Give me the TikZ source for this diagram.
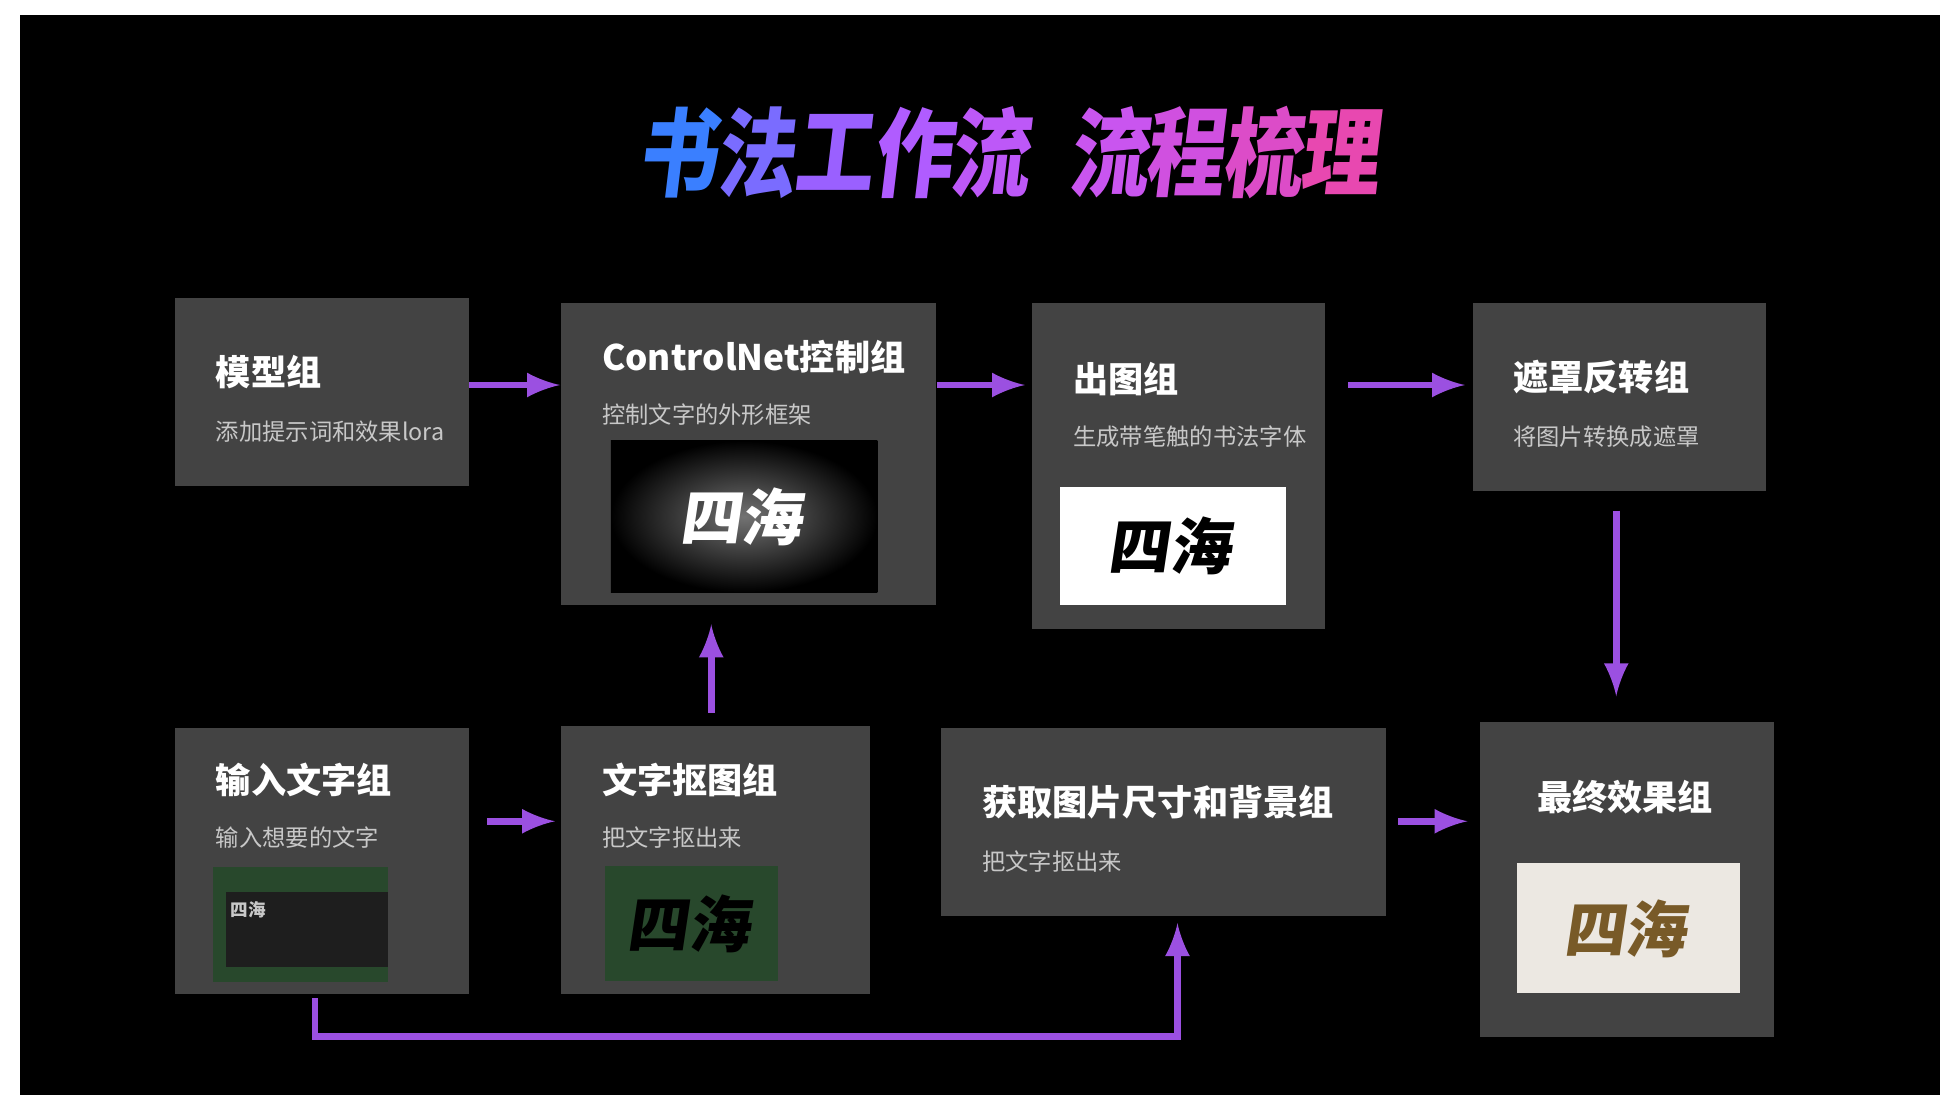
\documentclass[tikz,border=0pt]{standalone}
\usepackage{fontspec}
\setmainfont{Noto Sans CJK SC}
\usetikzlibrary{positioning}
\definecolor{boxgray}{RGB}{67,67,67}
\definecolor{subgray}{RGB}{200,200,200}
\definecolor{flowpurple}{RGB}{155,80,225}
\definecolor{maskgreen}{RGB}{40,72,44}
\definecolor{inkdark}{RGB}{30,30,30}
\definecolor{beige}{RGB}{236,232,226}
\definecolor{gold}{RGB}{120,90,40}
\tikzset{
  stepbox/.style={shape=rectangle,fill=boxgray,inner sep=0,anchor=north west},
  steptitle/.style={anchor=west,text=white,font=\fontsize{8}{10}\selectfont\bfseries,inner sep=0},
  stepsub/.style={anchor=west,text=subgray,font=\fontsize{5.3}{7}\selectfont,inner sep=0},
  pic/.style={shape=rectangle,inner sep=0,anchor=north west},
  flow/.style={-latex,line width=0.55mm,color=flowpurple},
  titlechar/.style={font=\fontsize{22}{24}\selectfont\bfseries,inner sep=0,xslant=0.12,xscale=0.82},
  brush/.style={font=\fontsize{14}{16}\selectfont\bfseries,xslant=0.15}
}
\begin{document}
\begin{tikzpicture}[x=0.01cm,y=-0.01cm]
\useasboundingbox (0,0) rectangle (1568,896);
\fill[white] (0,0) rectangle (1568,896);
\fill[black] (16,12) rectangle (1552,876);
% title, one colour per character
\foreach \ch/\rr/\gg/\bb/\xx in {书/58/127/255/545,法/122/108/255/608,工/154/96/255/670,作/176/92/255/733,流/189/88/248/795,流/201/85/239/890,程/208/80/224/951,梳/220/76/200/1013,理/232/72/176/1075}{
  \definecolor{tc}{RGB}{\rr,\gg,\bb}
  \node[titlechar,text=tc] at (\xx,122) {\ch};
}
% step boxes
\node[stepbox,minimum width=2.35cm,minimum height=1.5cm] (model) at (139,238) {};
\node[stepbox,minimum width=3cm,minimum height=2.41cm] (control) at (448,242) {};
\node[stepbox,minimum width=2.34cm,minimum height=2.6cm] (render) at (825,242) {};
\node[stepbox,minimum width=2.34cm,minimum height=1.5cm] (invert) at (1178,242) {};
\node[stepbox,minimum width=2.35cm,minimum height=2.12cm] (input) at (139,582) {};
\node[stepbox,minimum width=2.47cm,minimum height=2.14cm] (cutout) at (448,580) {};
\node[stepbox,minimum width=3.56cm,minimum height=1.5cm] (size) at (752,582) {};
\node[stepbox,minimum width=2.35cm,minimum height=2.52cm] (final) at (1183,577) {};
% texts
\node[steptitle] at (172,298) {模型组};
\node[stepsub] at (172,345) {添加提示词和效果lora};
\node[steptitle] at (481,286) {ControlNet控制组};
\node[stepsub] at (481,332) {控制文字的外形框架};
\node[steptitle] at (858,303) {出图组};
\node[stepsub] at (858,349) {生成带笔触的书法字体};
\node[steptitle] at (1210,302) {遮罩反转组};
\node[stepsub] at (1210,349) {将图片转换成遮罩};
\node[steptitle] at (172,624) {输入文字组};
\node[stepsub] at (172,670) {输入想要的文字};
\node[steptitle] at (481,624) {文字抠图组};
\node[stepsub] at (481,670) {把文字抠出来};
\node[steptitle] at (785,642) {获取图片尺寸和背景组};
\node[stepsub] at (785,689) {把文字抠出来};
\node[steptitle,anchor=center] at (1300,638) {最终效果组};
% pictures
\node[pic,inner color=black!55,outer color=black,minimum width=2.13cm,minimum height=1.21cm] (depth) at (488,352) {};
\node[brush,text=white!85] at (depth.center) {四海};
\node[pic,fill=white,minimum width=1.81cm,minimum height=0.94cm] (ink) at (847,389) {};
\node[brush] at (ink.center) {四海};
\node[pic,fill=maskgreen,minimum width=1.4cm,minimum height=0.92cm] (textpic) at (170,693) {};
\node[pic,fill=inkdark,minimum width=1.3cm,minimum height=0.6cm] (textbg) at (180,713) {};
\node[text=subgray,font=\fontsize{4}{5}\selectfont\bfseries,anchor=west,inner sep=0] at (184,728) {四海};
\node[pic,fill=maskgreen,minimum width=1.39cm,minimum height=0.92cm] (maskpic) at (483,692) {};
\node[brush] at (maskpic.center) {四海};
\node[pic,fill=beige,minimum width=1.78cm,minimum height=1.04cm] (result) at (1213,690) {};
\node[brush,text=gold] at (result.center) {四海};
% connectors
\coordinate (elbow) at (252,829);
\draw[flow] (model.east|-0,308) -- (control.west|-0,308);
\draw[flow] (control.east|-0,308) -- ([xshift=-0.05cm]render.west|-0,308);
\draw[flow] ([xshift=0.18cm]render.east|-0,308) -- ([xshift=-0.06cm]invert.west|-0,308);
\draw[flow] ([yshift=-0.15cm]invert.south-|1293,0) -- ([yshift=0.2cm]final.north-|1293,0);
\draw[flow] ([yshift=0.1cm]cutout.north-|569,0) -- ([yshift=-0.15cm]control.south-|569,0);
\draw[flow] ([xshift=0.14cm]input.east|-0,657) -- ([xshift=-0.04cm]cutout.west|-0,657);
\draw[flow] ([xshift=0.09cm]size.east|-0,657) -- ([xshift=-0.09cm]final.west|-0,657);
\draw[flow] ([yshift=-0.03cm]input.south-|252,0) -- (elbow) -| ([yshift=-0.05cm]size.south-|942,0);
\end{tikzpicture}
\end{document}
